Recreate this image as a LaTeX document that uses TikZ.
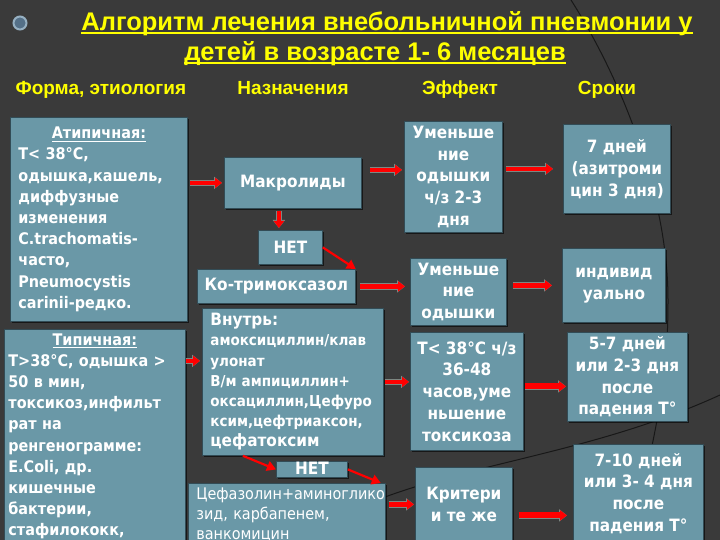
\documentclass[tikz,border=0pt]{standalone}
\usepackage{fontspec}
\setmainfont{DejaVu Sans}
\newfontfamily\titlefont{Liberation Sans}
\newfontfamily\boxfont[FakeStretch=0.9]{DejaVu Sans}
\usetikzlibrary{arrows.meta,shadows}

\definecolor{bg}{RGB}{58,58,58}
\definecolor{boxfill}{RGB}{106,152,167}
\definecolor{boxline}{RGB}{50,76,86}
\definecolor{headyellow}{RGB}{255,255,0}
\definecolor{arrowedge}{RGB}{125,135,130}
\definecolor{deco}{RGB}{24,24,24}
\definecolor{bulletring}{RGB}{150,176,194}
\definecolor{bulletcore}{RGB}{84,112,136}

\newcommand\undl[2][1pt]{\setbox0\hbox{#2}\rlap{\rule[-3pt]{\wd0}{#1}}\box0}

\tikzset{
  panel/.style={draw=boxline, fill=boxfill, line width=0.8pt, text=white,
                drop shadow={shadow xshift=1.5pt, shadow yshift=-1.5pt, fill=black, opacity=0.6}},
  sidebox/.style={panel, anchor=north west, align=left, inner xsep=8pt, inner ysep=4pt,
                  font=\boxfont\bfseries\fontsize{16}{21.2}\selectfont},
  midbox/.style={panel, anchor=north west, align=center, inner sep=1pt,
                 font=\boxfont\bfseries\fontsize{17}{21.8}\selectfont},
  titletext/.style={anchor=base, text=headyellow, font=\titlefont\bfseries\fontsize{25.5}{30}\selectfont},
  colhead/.style={anchor=base, text=headyellow, font=\titlefont\bfseries\fontsize{19}{22}\selectfont},
  blockarr/.style={draw=red, line width=4.5pt, -{Triangle[length=7pt,width=10pt]},
                   preaction={draw=arrowedge, line width=6.5pt, -{Triangle[length=8pt,width=12pt]}},
                   shorten <=2pt, shorten >=2pt},
  thinarr/.style={draw=red, line width=2.2pt, -{Triangle[length=9pt,width=10pt]}}
}

\begin{document}
\begin{tikzpicture}[x=1pt, y=-1pt]
\useasboundingbox (0,0) rectangle (720,540);
\clip (0,0) rectangle (720,540);
\fill[bg] (0,0) rectangle (720,540);                                                              % Hintergrund
\draw[deco, line width=1pt] (571,0) .. controls (625,85) and (668,200) .. (668,300)
      .. controls (668,370) and (660,420) .. (630,540);                                          % Bogen
\draw[deco, line width=1pt] (385,497) .. controls (480,462) and (600,450) .. (720,395);           % Bogen

\node[circle, draw=bulletring, line width=2pt, fill=bulletcore, minimum size=13pt, inner sep=0pt] (bullet) at (20,23) {};
\node[titletext] (title1) at (387,31) {\undl[2pt]{Алгоритм лечения внебольничной пневмонии у}};
\node[titletext] (title2) at (375,61) {\undl[2pt]{детей в возрасте 1- 6 месяцев}};

\node[colhead, anchor=base west] (hform) at (12,95) {Форма, этиология};                         % Spalten
\node[colhead] (hnazn) at (293,95) {Назначения};
\node[colhead] (heff)  at (460,95) {Эффект};
\node[colhead] (hsrok) at (607,95) {Сроки};

\node[sidebox, text width=161pt, minimum width=177pt, minimum height=204pt] (atyp) at (10,117)
  {\makebox[\linewidth]{\undl{Атипичная:}}\\ T< 38°C,\\ одышка,кашель,\\ диффузные\\ изменения\\
   C.trachomatis-\\ часто,\\ Pneumocystis\\ carinii-редко.};
\node[sidebox, text width=173pt, minimum width=181pt, inner xsep=4pt] (typ) at (4,329)
  {\makebox[\linewidth]{\undl{Типичная:}}\\ T>38°C, одышка >\\ 50 в мин,\\ токсикоз,инфильт\\ рат на\\
   ренгенограмме:\\ E.Coli, др.\\ кишечные\\ бактерии,\\ стафилококк,};

\node[midbox, minimum width=137pt, minimum height=51pt] (mac) at (224,157) {Макролиды};
\node[midbox, minimum width=64pt, minimum height=34pt] (net1) at (258,230) {НЕТ};
\node[midbox, minimum width=158pt, minimum height=34pt] (ko) at (197,269) {Ко-тримоксазол};
\node[sidebox, text width=165pt, minimum width=181pt, minimum height=147pt, inner ysep=2pt,
      font=\boxfont\bfseries\fontsize{15}{20.2}\selectfont] (inn) at (202,308)
  {{\fontsize{17}{20.2}\selectfont Внутрь:}\\ амоксициллин/клав\\ улонат\\ В/м ампициллин+\\
   оксациллин,Цефуро\\ ксим,цефтриаксон,\\ {\fontsize{17}{20.2}\selectfont цефатоксим}};
\node[midbox, minimum width=71pt, minimum height=16pt, inner ysep=0pt, text height=11pt, text depth=0pt] (net2) at (276,461) {НЕТ};
\node[sidebox, text width=181pt, minimum width=197pt, inner ysep=4pt,
      font=\boxfont\fontsize{16}{20}\selectfont] (cef) at (188,483)
  {Цефазолин+аминоглико\\ зид, карбапенем,\\ ванкомицин};

\node[midbox, minimum width=98pt, minimum height=111pt] (eff1) at (404,121) {Уменьше\\ние\\одышки\\ч/з 2-3\\дня};
\node[midbox, minimum width=96pt, minimum height=67pt] (eff2) at (410,258) {Уменьше\\ние\\одышки};
\node[midbox, minimum width=113pt, minimum height=118pt] (eff3) at (410,332) {T< 38°C ч/з\\36-48\\часов,уме\\ньшение\\токсикоза};
\node[midbox, minimum width=97pt, minimum height=74pt] (eff4) at (415,467) {Критери\\и те же};

\node[midbox, minimum width=107pt, minimum height=89pt] (srok1) at (563,124) {7 дней\\(азитроми\\цин 3 дня)};
\node[midbox, minimum width=103pt, minimum height=74pt] (srok2) at (562,248) {индивид\\уально};
\node[midbox, minimum width=120pt, minimum height=89pt] (srok3) at (567,332) {5-7 дней\\или 2-3 дня\\после\\падения T°};
\node[midbox, minimum width=130pt, minimum height=98pt] (srok4) at (573,444) {7-10 дней\\или 3- 4 дня\\после\\падения T°};

\draw[blockarr] (atyp.east |- mac.west) -- (mac.west);                                         % Pfeile
\draw[blockarr, shorten <=8pt] ([yshift=13pt]mac.east) -- ([yshift=13pt]mac.east -| eff1.west);
\draw[blockarr, line width=4pt, shorten <=2pt, shorten >=2pt] ([xshift=-14pt]mac.south) -- ([xshift=-14pt]mac.south |- net1.north);
\draw[thinarr] (net1.east) -- (ko.north east);
\draw[blockarr, shorten <=4pt, shorten >=5pt] (ko.east) -- (ko.east -| eff2.west);
\draw[blockarr, shorten <=3pt, shorten >=10pt] (eff1.east |- srok1.west) -- (srok1.west);
\draw[blockarr, shorten <=6pt, shorten >=10pt] (eff2.east |- srok2.west) -- (srok2.west);
\draw[blockarr, shorten <=0pt] ([yshift=21pt]inn.west -| typ.east) -- ([yshift=21pt]inn.west);
\draw[blockarr, shorten <=1pt, shorten >=1pt] (inn.east) -- (inn.east -| eff3.west);
\draw[blockarr, line width=6pt, shorten <=1pt, shorten >=1pt] ([yshift=5pt]eff3.east) -- ([yshift=5pt]eff3.east -| srok3.west);
\draw[thinarr] ([xshift=-50pt]inn.south) -- (net2.west);
\draw[thinarr] (net2.east) -- ([xshift=-5pt]cef.north east);
\draw[blockarr, shorten <=3pt, shorten >=1pt] (cef.east |- eff4.west) -- (eff4.west);
\draw[blockarr, line width=6pt, shorten <=6pt, shorten >=6pt] ([yshift=-11pt]eff4.east) -- ([yshift=-11pt]eff4.east -| srok4.west);
\end{tikzpicture}
\end{document}
